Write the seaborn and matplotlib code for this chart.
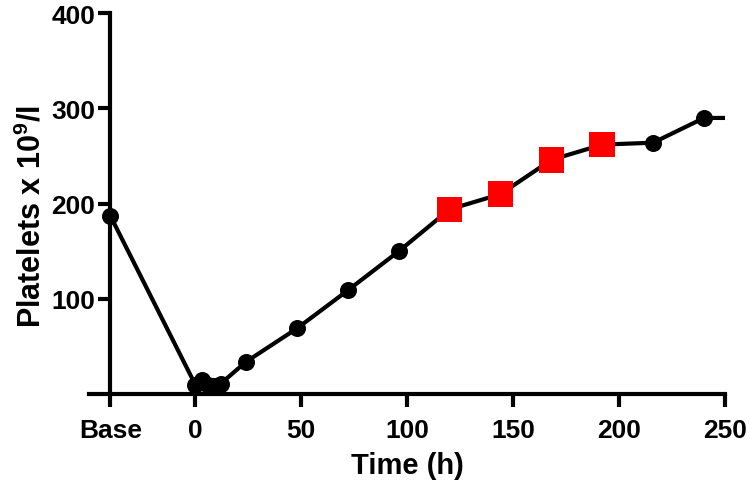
import matplotlib
matplotlib.use("Agg")
import matplotlib.pyplot as plt
from matplotlib import font_manager
import seaborn as sns
import pandas as pd

# ---- data ----
base_pos = -40
line_hours = [-40, 0, 3, 6, 9, 12, 24, 48, 72, 96, 120, 144, 168, 192, 216, 240, 250]
line_vals = [187, 10, 15, 10, 9, 11, 34, 69, 109, 150, 194, 210, 246, 262, 264, 290, 290]
circle_hours = [-40, 0, 3, 6, 9, 12, 24, 48, 72, 96, 216, 240]
circle_vals = [187, 10, 15, 10, 9, 11, 34, 69, 109, 150, 264, 290]
square_hours = [120, 144, 168, 192]
square_vals = [194, 210, 246, 262]
xtick_pos = [-40, 0, 50, 100, 150, 200, 250]
xtick_labels = ["Base", "0", "50", "100", "150", "200", "250"]
ytick_pos = [100, 200, 300, 400]

sns.set_style("white")
names = {f.name for f in font_manager.fontManager.ttflist}
fam = "Liberation Sans Narrow" if "Liberation Sans Narrow" in names else "Liberation Sans"
plt.rcParams["font.family"] = [fam, "DejaVu Sans"]
plt.rcParams["font.weight"] = "bold"
plt.rcParams["text.color"] = "black"
plt.rcParams["axes.labelcolor"] = "black"
plt.rcParams["xtick.color"] = "black"
plt.rcParams["ytick.color"] = "black"
plt.rcParams["mathtext.fontset"] = "custom"
plt.rcParams["mathtext.bf"] = fam + ":bold"
plt.rcParams["mathtext.rm"] = fam + ":bold"

fig = plt.figure(figsize=(7.5, 4.89), dpi=100)
ax = fig.add_axes([0.119, 0.192, 0.848, 0.779])

line_df = pd.DataFrame({"h": line_hours, "v": line_vals})
circ_df = pd.DataFrame({"h": circle_hours, "v": circle_vals})
sq_df = pd.DataFrame({"h": square_hours, "v": square_vals})

sns.lineplot(data=line_df, x="h", y="v", sort=False, estimator=None,
             color="black", linewidth=3, ax=ax, zorder=2)
sns.scatterplot(data=circ_df, x="h", y="v", marker="o", s=150, color="black",
                edgecolor="black", linewidth=0, ax=ax, zorder=3, clip_on=False)
sns.scatterplot(data=sq_df, x="h", y="v", marker="s", s=340, color="#ff0000",
                edgecolor="none", linewidth=0, ax=ax, zorder=4, clip_on=False)

ax.set_xlim(-50, 250)
ax.set_ylim(0, 400)
ax.spines["left"].set_position(("data", base_pos))
ax.spines["right"].set_visible(False)
ax.spines["top"].set_visible(False)
for s in ("left", "bottom"):
    ax.spines[s].set_linewidth(3)
    ax.spines[s].set_color("black")

ax.set_xticks(xtick_pos)
ax.set_xticklabels(xtick_labels)
ax.set_yticks(ytick_pos)
ax.tick_params(axis="both", direction="out", length=9, width=3, color="black",
               labelcolor="black", labelsize=19, bottom=True, left=True)
ax.tick_params(axis="x", pad=8)
ax.tick_params(axis="y", pad=2)
for lab in ax.get_xticklabels() + ax.get_yticklabels():
    lab.set_fontweight("bold")

ax.set_xlabel("Time (h)", fontsize=21, fontweight="bold", color="black", labelpad=7)
ax.set_ylabel(r"Platelets x 10$^\mathbf{9}$/l", fontsize=22, fontweight="bold",
              color="black")
ax.yaxis.set_label_coords(-0.066, 0.47)

fig.savefig("out.png", dpi=100)
